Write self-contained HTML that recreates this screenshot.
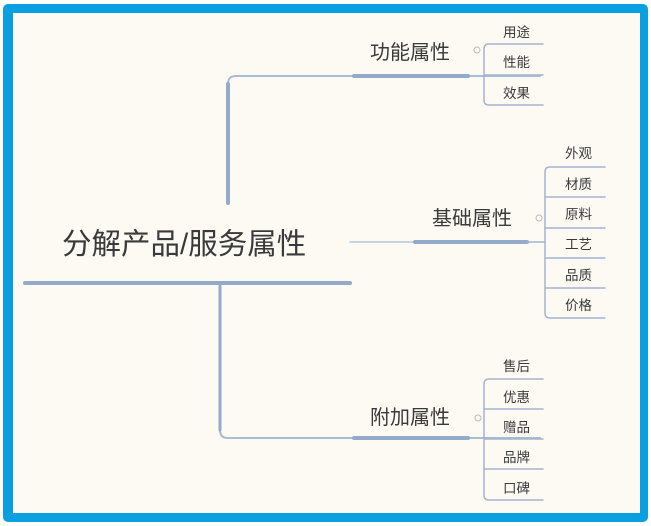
<!DOCTYPE html>
<html><head><meta charset="utf-8"><style>
html,body{margin:0;padding:0;background:#fff;}
svg{display:block;}
text{font-family:"Liberation Sans","Noto Sans CJK SC",sans-serif;fill:#3a3a3a;}
</style></head><body>
<svg width="651" height="526" viewBox="0 0 651 526" xmlns="http://www.w3.org/2000/svg">
<rect x="3" y="4" width="645" height="518" rx="5" fill="#0a9fe0"/>
<rect x="13" y="13" width="627" height="500" fill="#fcfaf3"/>
<g fill="none" stroke-linecap="round">
<line x1="25" y1="283" x2="350" y2="283" stroke="#93aacb" stroke-width="4"/>
<path d="M228 203 V84 Q228 76 236 76 H540" stroke="#a9bcd6" stroke-width="2"/>
<line x1="228" y1="203" x2="228" y2="84" stroke="#93aacb" stroke-width="4"/>
<line x1="354" y1="76" x2="468" y2="76" stroke="#93aacb" stroke-width="4"/>
<line x1="350" y1="242" x2="415" y2="242" stroke="#b7c6dc" stroke-width="1.5"/>
<line x1="415" y1="242" x2="527" y2="242" stroke="#93aacb" stroke-width="4"/>
<path d="M220 286 V430 Q220 438 228 438 H540" stroke="#a9bcd6" stroke-width="2"/>
<line x1="220" y1="286" x2="220" y2="430" stroke="#93aacb" stroke-width="3"/>
<line x1="354" y1="438" x2="468" y2="438" stroke="#93aacb" stroke-width="4"/>
<g stroke="#a3b5cf" stroke-width="1.5">
<path d="M543 44 H489 Q484 44 484 49 V100 Q484 105 489 105 H543"/>
<line x1="484" y1="75" x2="543" y2="75"/>
<path d="M605 167 H550 Q545 167 545 172 V313 Q545 318 550 318 H605"/>
<line x1="545" y1="197" x2="605" y2="197"/>
<line x1="545" y1="228" x2="605" y2="228"/>
<line x1="527" y1="242" x2="545" y2="242"/>
<line x1="545" y1="258" x2="605" y2="258"/>
<line x1="545" y1="288" x2="605" y2="288"/>
<path d="M543 379 H489 Q484 379 484 384 V495 Q484 500 489 500 H543"/>
<line x1="484" y1="409" x2="543" y2="409"/>
<line x1="484" y1="439" x2="543" y2="439"/>
<line x1="484" y1="469" x2="543" y2="469"/>
</g>
<g stroke="#bbb" stroke-width="1">
<circle cx="477" cy="50" r="3"/><circle cx="539" cy="218" r="3"/><circle cx="478" cy="418" r="3"/>
</g>
</g>
<text x="62" y="254" font-size="29.5">分解产品/服务属性</text>
<text x="370" y="59" font-size="20">功能属性</text>
<text x="432" y="225" font-size="20">基础属性</text>
<text x="370" y="424" font-size="20">附加属性</text>
<g font-size="13.5">
<text x="503" y="37">用途</text><text x="503" y="67">性能</text><text x="503" y="98">效果</text>
<text x="565" y="158">外观</text><text x="565" y="189">材质</text><text x="565" y="219">原料</text>
<text x="565" y="249">工艺</text><text x="565" y="280">品质</text><text x="565" y="310">价格</text>
<text x="503" y="371">售后</text><text x="503" y="402">优惠</text><text x="503" y="432">赠品</text>
<text x="503" y="462">品牌</text><text x="503" y="493">口碑</text>
</g>
</svg>
</body></html>
